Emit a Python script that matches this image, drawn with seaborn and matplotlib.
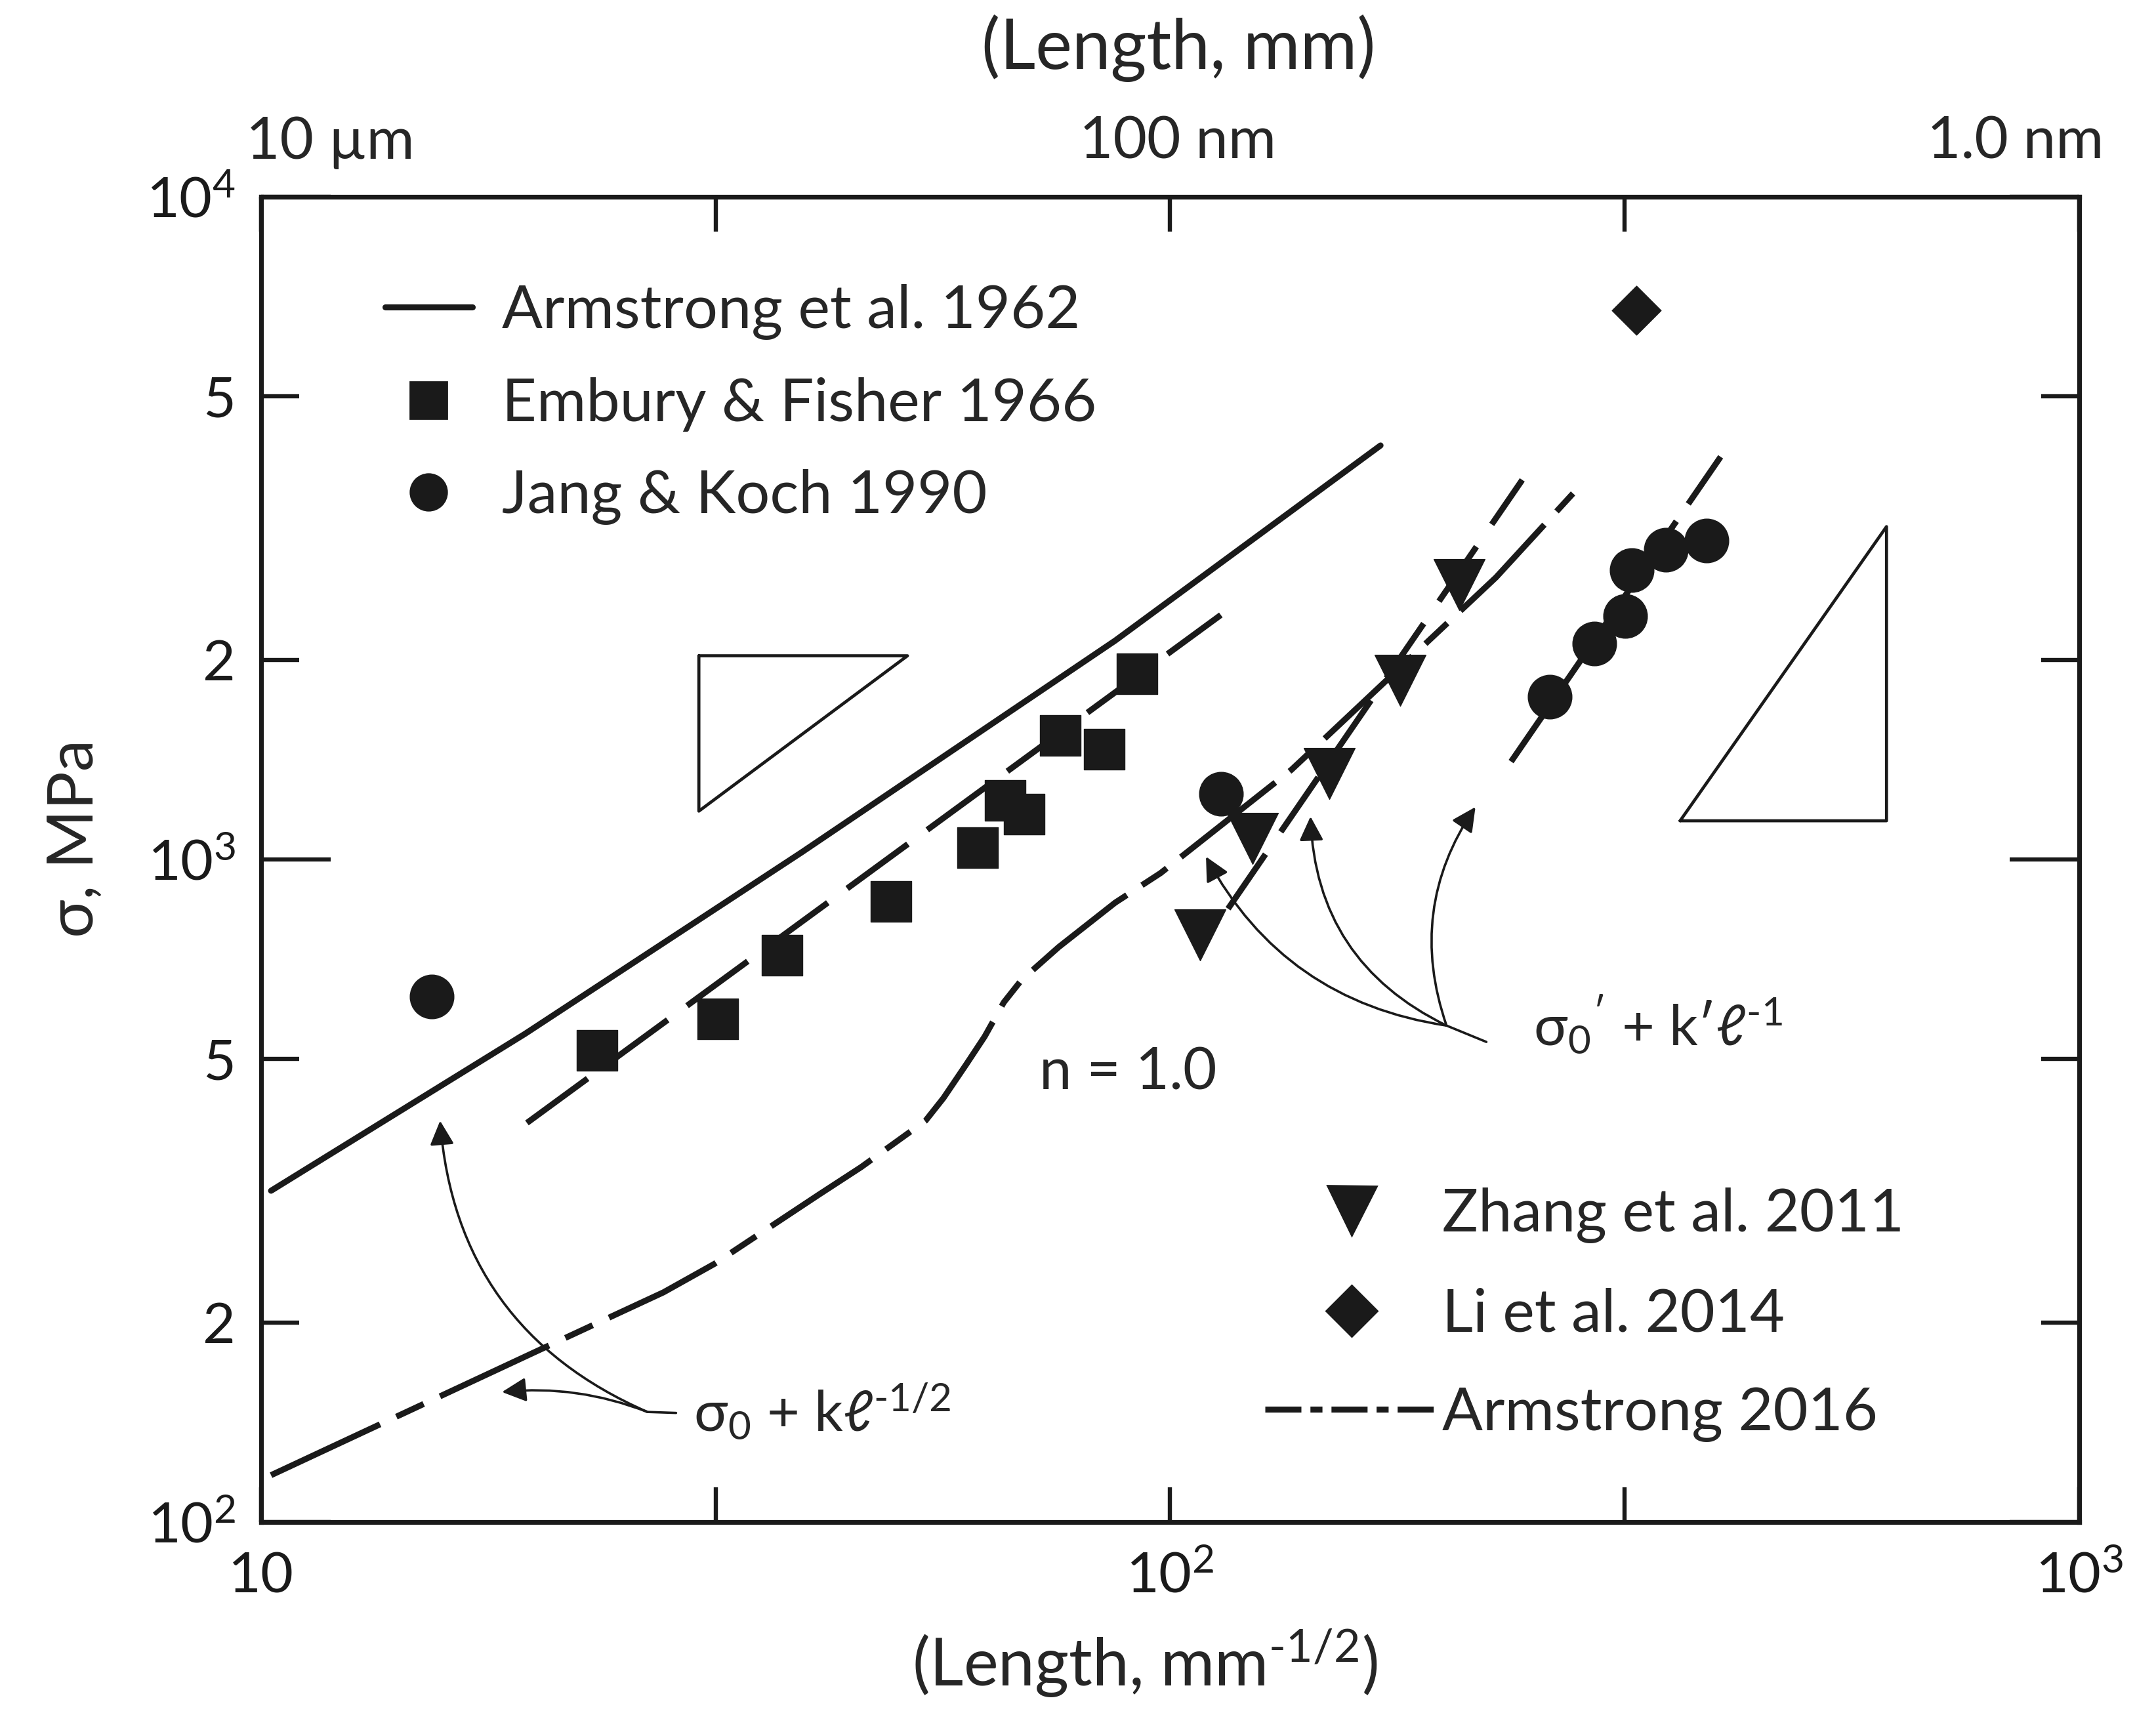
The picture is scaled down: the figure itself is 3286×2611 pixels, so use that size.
import numpy as np
import pandas as pd
import seaborn as sns
import matplotlib
matplotlib.use("Agg")
import matplotlib.pyplot as plt
from matplotlib.lines import Line2D
import matplotlib.transforms as mtransforms

# ---------------- data ----------------
# Embury & Fisher 1966 (squares)
embury_x = [23.4, 31.8, 37.4, 49.3, 61.4, 65.8, 69.1, 75.7, 84.6, 92.0]
embury_y = [515, 574, 716, 863, 1040, 1227, 1170, 1538, 1466, 1905]
# Jang & Koch 1990 (circles)
jang_x = [15.4, 113.7, 261.6, 293.0, 316.7, 322.0, 351.0, 389.0]
jang_y = [621, 1254, 1758, 2118, 2328, 2730, 2930, 3026]
# Zhang et al. 2011 (down triangles)
zhang_x = [107.9, 123.3, 149.6, 179.0, 208.0]
zhang_y = [769, 1074, 1346, 1862, 2600]
# Li et al. 2014 (diamond)
li_x = [326.0]
li_y = [6730]

# Armstrong et al. 1962 (solid line)
arm62_x = [10.25, 19.5, 39.3, 87.0, 170.4]
arm62_y = [316, 545, 1024, 2138, 4212]
# Embury fit (dashed)
embfit_x = [19.6, 113.7]
embfit_y = [400, 2337]
# Zhang fit, sigma0' + k' l^-1 (dashed)
zhfit_x = [115.8, 244.0]
zhfit_y = [842, 3737]
# Jang fit, sigma0' + k' l^-1 (dashed)
jkfit_x = [237.2, 411.4]
jkfit_y = [1404, 4212]
# Armstrong 2016 (long dash - short dash)
arm16_x = [10.25, 19.93, 27.7, 31.5, 41.1, 45.7, 53.8, 56.3, 59.7, 62.5, 65.6,
           68.6, 75.4, 87.0, 97.6, 135.9, 228.3, 277.5]
arm16_y = [117.6, 180, 222, 245, 312, 343, 403, 436, 491, 540, 608,
           657, 737, 860, 953, 1364, 2663, 3565]

# slope triangles
tri_left_x = [30.3, 51.4, 30.3, 30.3]
tri_left_y = [2028, 2028, 1182, 2028]
tri_right_x = [364, 614, 614, 364]
tri_right_y = [1143, 1143, 3177, 1143]

# ticks
y_major = [100, 1000, 10000]
y_major_labels = ["10$^2$", "10$^3$", "10$^4$"]
y_minor = [200, 500, 2000, 5000]
y_minor_labels = ["2", "5", "2", "5"]
xticks = [10, 31.62, 100, 316.2, 1000]
xtick_labels = ["10", "", "10$^2$", "", "10$^3$"]
top_labels = ["10 µm", "100 nm", "1.0 nm"]
top_label_x = [11.9, 102, 851]

# ---------------- style ----------------
sns.set_theme(style="white")
plt.rcParams["font.family"] = ["Lato", "DejaVu Sans"]
plt.rcParams["mathtext.fontset"] = "custom"
plt.rcParams["mathtext.rm"] = "Lato"
plt.rcParams["mathtext.it"] = "Lato"
plt.rcParams["mathtext.sf"] = "Lato"
plt.rcParams["mathtext.default"] = "regular"
plt.rcParams["mathtext.fallback"] = "stixsans"

fig = plt.figure(figsize=(16.43, 13.055), dpi=200)
ax = fig.add_axes([0.1212, 0.1116, 0.8431, 0.7736])
ax.set_xscale("log")
ax.set_yscale("log")

LW = 3.3
# lines
sns.lineplot(x=arm62_x, y=arm62_y, ax=ax, color="k", lw=LW, sort=False, estimator=None)
sns.lineplot(x=embfit_x, y=embfit_y, ax=ax, color="k", lw=LW, sort=False, estimator=None,
             linestyle=(0, (12.5, 4)))
sns.lineplot(x=zhfit_x, y=zhfit_y, ax=ax, color="k", lw=LW, sort=False, estimator=None,
             linestyle=(0, (11, 4.5)))
sns.lineplot(x=jkfit_x, y=jkfit_y, ax=ax, color="k", lw=LW, sort=False, estimator=None,
             linestyle=(0, (9.5, 3.5)))
sns.lineplot(x=arm16_x, y=arm16_y, ax=ax, color="k", lw=LW, sort=False, estimator=None,
             linestyle=(0, (20, 3, 5, 3)))

# slope triangles
ax.plot(tri_left_x, tri_left_y, color="k", lw=1.7)
ax.plot(tri_right_x, tri_right_y, color="k", lw=1.7)

# markers
sns.scatterplot(x=embury_x, y=embury_y, ax=ax, marker="s", s=22**2, color="k",
                edgecolor="k", linewidth=0.5, zorder=5)
sns.scatterplot(x=jang_x, y=jang_y, ax=ax, marker="o", s=24**2, color="k",
                edgecolor="k", linewidth=0.5, zorder=5)
sns.scatterplot(x=zhang_x, y=zhang_y, ax=ax, marker="v", s=28**2, color="k",
                edgecolor="k", linewidth=0.5, zorder=5)
sns.scatterplot(x=li_x, y=li_y, ax=ax, marker="D", s=19**2, color="k",
                edgecolor="k", linewidth=0.5, zorder=5)

ax.set_xlim(10, 1000)
ax.set_ylim(100, 10000)

# ticks
ax.set_xticks(xticks)
ax.set_xticklabels(xtick_labels)
ax.set_xticks([], minor=True)
ax.set_yticks(y_major)
ax.set_yticklabels(y_major_labels)
ax.set_yticks(y_minor, minor=True)
ax.set_yticklabels(y_minor_labels, minor=True)
ax.tick_params(axis="both", which="both", direction="in", width=2.3,
               top=True, right=True, bottom=True, left=True,
               labelsize=31, colors="k")
ax.tick_params(axis="x", which="major", length=19, pad=16)
ax.tick_params(axis="y", which="major", length=38, pad=14)
ax.tick_params(axis="y", which="minor", length=21, pad=14)
for s in ax.spines.values():
    s.set_linewidth(2.6)
    s.set_color("k")
ax.set_xlabel("")
ax.set_ylabel("")

# top axis labels
trans_top = mtransforms.blended_transform_factory(ax.transData, ax.transAxes)
for lx, lab in zip(top_label_x, top_labels):
    ax.text(lx, 1.041, lab, transform=trans_top, ha="center", va="center", fontsize=32)

fig.text(0.5466, 0.972, "(Length, mm)", ha="center", va="center", fontsize=38)
fig.text(0.531, 0.029, r"(Length, mm$^{\text{-}1/2}$)", ha="center", va="center", fontsize=36)
fig.text(0.035, 0.5104, "σ, MPa", rotation=90, ha="center", va="center", fontsize=35)

# legends
h1 = [Line2D([], [], color="k", lw=LW),
      Line2D([], [], color="k", marker="s", ls="none", ms=20),
      Line2D([], [], color="k", marker="o", ls="none", ms=20)]
l1 = ["Armstrong et al. 1962", "Embury & Fisher 1966", "Jang & Koch 1990"]
leg1 = ax.legend(h1, l1, loc="upper left", bbox_to_anchor=(0.068, 0.934), frameon=False,
                 fontsize=33, handlelength=1.45, handletextpad=0.5, labelspacing=0.62,
                 borderpad=0, borderaxespad=0)
ax.add_artist(leg1)
h2 = [Line2D([], [], color="k", marker="v", ls="none", ms=27),
      Line2D([], [], color="k", marker="D", ls="none", ms=20),
      Line2D([], [], color="k", lw=LW, ls=(0, (6, 1.5, 2, 1.5)))]
l2 = ["Zhang et al. 2011", "Li et al. 2014", "Armstrong 2016"]
ax.legend(h2, l2, loc="lower left", bbox_to_anchor=(0.552, 0.060), frameon=False,
          fontsize=33, handlelength=2.9, handletextpad=0.05, labelspacing=0.74,
          borderpad=0, borderaxespad=0)

# annotations
ax.text(89.8, 476, "n = 1.0", ha="center", va="center", fontsize=32)
ax.text(29.9, 147, r"σ$_0$ + kℓ$^{\text{-}1/2}$", ha="left", va="center", fontsize=31)
ax.text(250.8, 564, r"σ$_0$$^{\prime}$ + k′ℓ$^{\text{-}1}$", ha="left", va="center", fontsize=31)

arrow_kw = dict(arrowstyle="-|>", color="k", lw=1.3, mutation_scale=28, shrinkA=0, shrinkB=0)
# left label arrows
ax.plot([26.6, 28.6], [146.5, 146], color="k", lw=1.3)
ax.annotate("", xy=(15.73, 403), xytext=(26.6, 146.5),
            arrowprops=dict(connectionstyle="arc3,rad=-0.3", **arrow_kw))
ax.annotate("", xy=(18.4, 157), xytext=(26.6, 146.5),
            arrowprops=dict(connectionstyle="arc3,rad=0.12", **arrow_kw))
# right label arrows
ax.plot([201.4, 222.8], [561, 530], color="k", lw=1.3)
for tip, rad in [((109.5, 1009), -0.25), ((142.7, 1160), -0.3), ((216.7, 1199), -0.25)]:
    ax.annotate("", xy=tip, xytext=(201.4, 561),
                arrowprops=dict(connectionstyle=f"arc3,rad={rad}", **arrow_kw))

fig.savefig("out.png", dpi=200, facecolor="white")
